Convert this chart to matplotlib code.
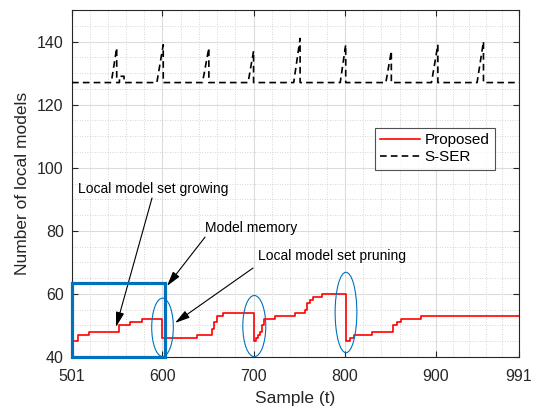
import matplotlib
matplotlib.use("Agg")
import matplotlib.pyplot as plt
import numpy as np
from matplotlib.patches import Ellipse, Rectangle
from matplotlib.ticker import FixedLocator

plt.rcParams['font.family'] = ['Liberation Sans', 'DejaVu Sans']

# Proposed: change points (sample, number of local models), drawn as steps
prop_t = [501, 508, 520, 553, 565, 578, 600, 638, 654, 657, 660, 667,
          701, 703, 705, 707, 709, 711, 723, 745, 756, 759, 762, 765, 775,
          801, 806, 810, 830, 853, 857, 862, 884, 991]
prop_v = [45, 47, 48, 50, 51, 52, 46, 47, 49, 51, 53, 54,
          45, 46, 47, 48, 50, 52, 53, 54, 55, 57, 58, 59, 60,
          45, 46, 47, 48, 50, 51, 52, 53, 53]

# S-SER: baseline with periodic spikes (start, peak sample, peak value)
sser_base = 127
spike_start = [544, 594, 644, 694, 744, 795, 845, 895, 945]
spike_peak_t = [550, 601, 651, 700, 751, 801, 851, 902, 952]
spike_peak_v = [138, 139, 138, 137, 141, 139, 137, 139, 140]

xticks = [501, 600, 700, 800, 900, 991]
yticks = [40, 60, 80, 100, 120, 140]

# build S-SER polyline from the read breakpoints
sser_t = [501]
sser_v = [sser_base]
for s, pt, pv in zip(spike_start, spike_peak_t, spike_peak_v):
    sser_t += [s, pt, pt]
    sser_v += [sser_base, pv, sser_base]
    if s == 544:
        sser_t += [553, 553, 558, 558]
        sser_v += [sser_base, 129, 129, sser_base]
sser_t.append(991)
sser_v.append(sser_base)

fig = plt.figure(figsize=(5.39, 4.12), dpi=100)
ax = fig.add_axes([0.1336, 0.1335, 0.8294, 0.8422])

ax.plot(prop_t, prop_v, color='#FF0000', lw=1.2, drawstyle='steps-post',
        label='Proposed', zorder=3)
ax.plot(sser_t, sser_v, color='black', lw=1.2, ls=(0, (4, 2.5)),
        label='S-SER', zorder=3)

ax.set_xlim(501, 991)
ax.set_ylim(40, 150)
ax.set_xticks(xticks)
ax.set_yticks(yticks)

xminor = []
for a, b in zip(xticks[:-1], xticks[1:]):
    xminor += list(np.linspace(a, b, 6)[1:-1])
ax.xaxis.set_minor_locator(FixedLocator(xminor))
ax.yaxis.set_minor_locator(FixedLocator(np.arange(45, 150, 5)))

ax.grid(True, which='major', color='#dcdcdc', lw=0.8)
ax.grid(True, which='minor', color='#c8c8c8', lw=0.6, ls=(0, (1, 2)))
ax.set_axisbelow(True)

ax.tick_params(which='major', direction='in', length=4, top=True, right=True,
               labelsize=11.5, colors='#262626', width=0.8)
ax.tick_params(axis='x', which='major', pad=9)
ax.tick_params(axis='y', which='major', pad=6)
ax.tick_params(which='minor', length=0)
for sp in ax.spines.values():
    sp.set_color('#262626')
    sp.set_linewidth(0.8)

ax.set_xlabel('Sample (t)', fontsize=12.5, color='#262626', labelpad=5)
ax.set_ylabel('Number of local models', fontsize=12.5, color='#262626', labelpad=5)

leg = ax.legend(loc='upper right', bbox_to_anchor=(0.946, 0.66), fontsize=11,
                frameon=True, fancybox=False, edgecolor='#262626',
                handlelength=2.6, handletextpad=0.3, borderpad=0.35,
                labelspacing=0.2, borderaxespad=0)
leg.get_frame().set_linewidth(0.8)

blue = '#0072BD'
ax.add_patch(Rectangle((501, 40), 102, 23.5, fill=False, ec=blue, lw=2.3,
                       clip_on=False, zorder=4))
for cx, cy, w, h in [(600.2, 49.4, 23.7, 18.5), (700.8, 49.8, 25.2, 19.4),
                     (801.3, 54.1, 23.8, 25.5)]:
    ax.add_patch(Ellipse((cx, cy), w, h, fill=False, ec=blue, lw=0.8, zorder=4))

arrow = dict(arrowstyle='-|>,head_length=0.9,head_width=0.25', color='black',
             lw=0.8, shrinkA=0, shrinkB=0)
ax.text(507.6, 93.3, 'Local model set growing', fontsize=10, va='center')
ax.annotate('', xy=(549.2, 49.5), xytext=(588.7, 90.4), arrowprops=arrow)
ax.text(646.8, 80.9, 'Model memory', fontsize=10, va='center')
ax.annotate('', xy=(605.1, 62.5), xytext=(646.8, 78.0), arrowprops=arrow)
ax.text(704.9, 72.0, 'Local model set pruning', fontsize=10, va='center')
ax.annotate('', xy=(613.9, 50.8), xytext=(699.4, 68.2), arrowprops=arrow)

fig.savefig('out.png', dpi=100, facecolor='white')
